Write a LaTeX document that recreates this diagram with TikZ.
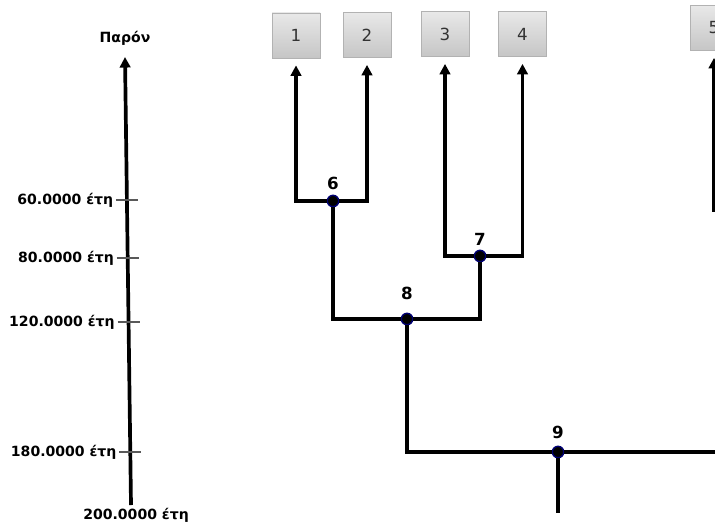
\documentclass[tikz,border=0pt]{standalone}
\usepackage{fontspec}
\setmainfont{DejaVu Sans}
\usetikzlibrary{arrows.meta}

\tikzset{
  leafbox/.style={draw=gray!60, top color=gray!18, bottom color=gray!45,
    minimum width=0.96cm, minimum height=0.9cm, inner sep=0pt,
    text=black!80, font=\fontsize{9.5}{9.5}\selectfont},
  branch/.style={line width=2.1pt},
  up/.style={-{Triangle[length=6pt,width=6pt]}, shorten >=4pt},
  junction/.style={circle, fill=black, draw=blue!45!black, line width=0.8pt,
    minimum size=6.5pt, inner sep=0pt},
  jlabel/.style={font=\bfseries\fontsize{9.5}{9.5}\selectfont},
  ticked/.style={draw=black!65, line width=0.6pt},
  agelabel/.style={font=\bfseries\fontsize{8}{8}\selectfont, anchor=east, inner sep=0pt}
}

\begin{document}
\begin{tikzpicture}[x=0.02cm, y=-0.02cm]
        \useasboundingbox (0,0) rectangle (715,523);
        \clip (0,0) rectangle (715,523);

        %time axis
        \coordinate (base) at (131,505);
        \coordinate (now) at (125,57);
        \draw[branch, -{Triangle[length=6pt,width=6pt]}] (base) -- (now);
        \node[font=\bfseries\fontsize{8}{8}\selectfont] (present) at (125,38) {Παρόν};
        \foreach \y/\age in {200/60, 258/80, 322/120, 452/180}{
            \coordinate (t\age) at ({131-6*(505-\y)/448}, \y);
            \draw[ticked] ([xshift=-0.22cm]t\age) -- ([xshift=0.22cm]t\age);
            \node[agelabel] (l\age) at ([xshift=-0.27cm]t\age) {\age.0000 έτη};
        }
        \node[font=\bfseries\fontsize{8}{8}\selectfont] (l200) at (136,515) {200.0000 έτη};

        %leaves
        \node[leafbox] (b1) at (296,35.5) {1};
        \node[leafbox] (b2) at (367,35) {2};
        \node[leafbox] (b3) at (445,34) {3};
        \node[leafbox] (b4) at (522.5,34) {4};
        \node[leafbox] (b5) at (714,28) {5};

        %junctions
        \node[junction, label={[jlabel, label distance=-1pt]above:6}] (n6) at (333,201) {};
        \node[junction, label={[jlabel, label distance=-1pt]above:7}] (n7) at (480,256) {};
        \node[junction, label={[jlabel, label distance=4pt]above:8}] (n8) at (407,319) {};
        \node[junction, label={[jlabel, label distance=0.5pt]above:9}] (n9) at (558,452) {};
        \coordinate (c5) at (714,212);
        \coordinate (e9) at (730,452);
        \coordinate (d9) at (558,513);

        %branches
        \draw[branch, up] (n6) -| (b1.south);
        \draw[branch, up] (n6) -| (b2.south);
        \draw[branch, up] (n7) -| (b3.south);
        \draw[branch, up] (n7) -| (b4.south);
        \draw[branch, up] (c5) -- (b5.south);
        \draw[branch] (n8) -| (n6);
        \draw[branch] (n8) -| (n7);
        \draw[branch] (n9) -| (n8);
        \draw[branch] (n9) -- (e9);
        \draw[branch] (n9) -- (d9);
\end{tikzpicture}
\end{document}
